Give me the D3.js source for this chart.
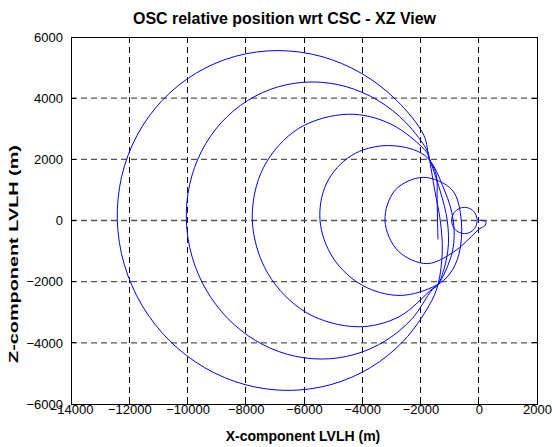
<!DOCTYPE html>
<html><head><meta charset="utf-8">
<script src="https://cdn.jsdelivr.net/npm/d3@7"></script>
<style>body{margin:0;background:#fff;}svg{display:block;}</style>
</head><body>
<script>
const titleText = "OSC relative position wrt CSC - XZ View";
const xLabel = "X-component LVLH (m)";
const yLabel = "Z-component LVLH (m)";
const xTicks = [-14000,-12000,-10000,-8000,-6000,-4000,-2000,0,2000];
const yTicks = [-6000,-4000,-2000,0,2000,4000,6000];
// trajectory X (m)
const trajX = [
 -50,-109,-270,-490,-710,-871,-930,-871,-710,-490,-270,-109,-40,
 110,250,200,40,
 -250,-815,-1770,-2767,-3220,-2865,-1910,-913,
 -600,-680,-1000,-1464,
 -2700,-3994,-5001,-5450,-5221,-4376,-3140,-1846,
 -1181,-876,-901,-1400,
 -1595,-2738,-4180,-5923,-7238,-7775,-7388,-6183,-4480,-3010,-1787,-1700,
 -1335,-1082,-1063,-1400,
 -1602,-2282,-3186,-4251,-5405,-6569,-7666,-8618,-9362,-9847,-10040,-9927,-9518,-8838,-7934,-6869,-5715,-4551,-3454,-2502,-1758,-1700,
 -1514,-1322,-1252,-1400,
 -1704,-2573,-3723,-5078,-6545,-8024,-9413,-10619,-11560,-12171,-12410,-12261,-11736,-10867,-9717,-8362,-6895,-5416,-4027,-2821,-1880,-1700,
 -1460,-1430,-1415,-1400
];
// trajectory Z (m)
const trajZ = [
 0,-215,-372,-430,-372,-215,0,215,372,430,372,215,20,
 5,-50,-180,-260,
 -520,-997,-1410,-997,0,997,1410,997,
 0,-1100,-1750,-2122,
 -2450,-2122,-1225,0,1225,2122,2450,2122,
 1000,0,-1000,-2100,
 -2234,-3149,-3475,-3009,-1738,0,1738,3009,3475,3149,2234,2030,
 1000,0,-1000,-2100,
 -2265,-3203,-3923,-4376,-4530,-4376,-3923,-3203,-2265,-1172,0,1172,2265,3203,3923,4376,4530,4376,3923,3203,2265,2030,
 1000,0,-1000,-2100,
 -2778,-3929,-4812,-5367,-5556,-5367,-4812,-3929,-2778,-1438,0,1438,2778,3929,4812,5367,5556,5367,4812,3929,2778,2030,
 1500,700,0,-618
];

const W = 556, H = 447;
const m = {left:71, right:19, top:37, bottom:43};
const FONT = "Liberation Sans, Arial, Helvetica, sans-serif";
const svg = d3.select("body").append("svg").attr("width",W).attr("height",H)
  .style("font-family",FONT);
const x = d3.scaleLinear().domain([-14000,2000]).range([m.left, W-m.right]);
const y = d3.scaleLinear().domain([-6000,6000]).range([H-m.bottom, m.top]);

// grid
const g = svg.append("g");
g.selectAll("line.gx").data(xTicks.slice(1,-1)).enter().append("line")
 .attr("x1",d=>x(d)).attr("x2",d=>x(d)).attr("y1",y(6000)).attr("y2",y(-6000))
 .attr("stroke","#000").attr("stroke-width",1).attr("stroke-dasharray","6,4").attr("shape-rendering","crispEdges");
g.selectAll("line.gy").data(yTicks.slice(1,-1)).enter().append("line")
 .attr("y1",d=>y(d)).attr("y2",d=>y(d)).attr("x1",x(-14000)).attr("x2",x(2000))
 .attr("stroke","#555").attr("stroke-width",1.3).attr("stroke-dasharray","6,4");

// data line
const pts = trajX.map((v,i)=>[v,trajZ[i]]);
svg.append("path").datum(pts)
 .attr("d", d3.line().x(d=>x(d[0])).y(d=>y(d[1])).curve(d3.curveCatmullRom.alpha(0.5)))
 .attr("fill","none").attr("stroke","#0000ff").attr("stroke-width",1);

// axes box
svg.append("rect").attr("x",x(-14000)).attr("y",y(6000)).attr("width",x(2000)-x(-14000)).attr("height",y(-6000)-y(6000))
 .attr("fill","none").attr("stroke","#000").attr("stroke-width",1).attr("shape-rendering","crispEdges");

const xAxis = d3.axisBottom(x).tickValues(xTicks).tickSize(0).tickPadding(1).tickFormat(d3.format("d"));
const yAxis = d3.axisLeft(y).tickValues(yTicks).tickSize(0).tickPadding(8).tickFormat(d3.format("d"));
const ax = svg.append("g").attr("transform",`translate(0,${y(-6000)})`).call(xAxis);
const ay = svg.append("g").attr("transform",`translate(${x(-14000)},0)`).call(yAxis);
[ax,ay].forEach(a=>{a.select(".domain").remove(); a.selectAll("text").attr("font-size",13).attr("fill","#000").style("font-family",FONT);});
// inner tick marks
svg.selectAll("line.tx").data(xTicks).enter().append("line")
 .attr("x1",d=>x(d)).attr("x2",d=>x(d)).attr("y1",y(-6000)).attr("y2",y(-6000)-5).attr("stroke","#000").attr("shape-rendering","crispEdges");
svg.selectAll("line.tx2").data(xTicks).enter().append("line")
 .attr("x1",d=>x(d)).attr("x2",d=>x(d)).attr("y1",y(6000)).attr("y2",y(6000)+5).attr("stroke","#000").attr("shape-rendering","crispEdges");
svg.selectAll("line.ty").data(yTicks).enter().append("line")
 .attr("y1",d=>y(d)).attr("y2",d=>y(d)).attr("x1",x(-14000)).attr("x2",x(-14000)+5).attr("stroke","#000").attr("shape-rendering","crispEdges");
svg.selectAll("line.ty2").data(yTicks).enter().append("line")
 .attr("y1",d=>y(d)).attr("y2",d=>y(d)).attr("x1",x(2000)).attr("x2",x(2000)-5).attr("stroke","#000").attr("shape-rendering","crispEdges");

svg.append("text").attr("x",133).attr("y",24).attr("text-anchor","start")
 .attr("font-size",16).attr("font-weight","bold").attr("textLength",303).attr("lengthAdjust","spacingAndGlyphs").text(titleText);
svg.append("text").attr("x",303).attr("y",441).attr("text-anchor","middle")
 .attr("font-size",14).attr("font-weight","bold").text(xLabel);
svg.append("text").attr("transform",`translate(18,254) rotate(-90)`).attr("text-anchor","middle")
 .attr("font-size",13).attr("font-weight","bold").attr("textLength",218).attr("lengthAdjust","spacingAndGlyphs").text(yLabel);
</script>
</body></html>
